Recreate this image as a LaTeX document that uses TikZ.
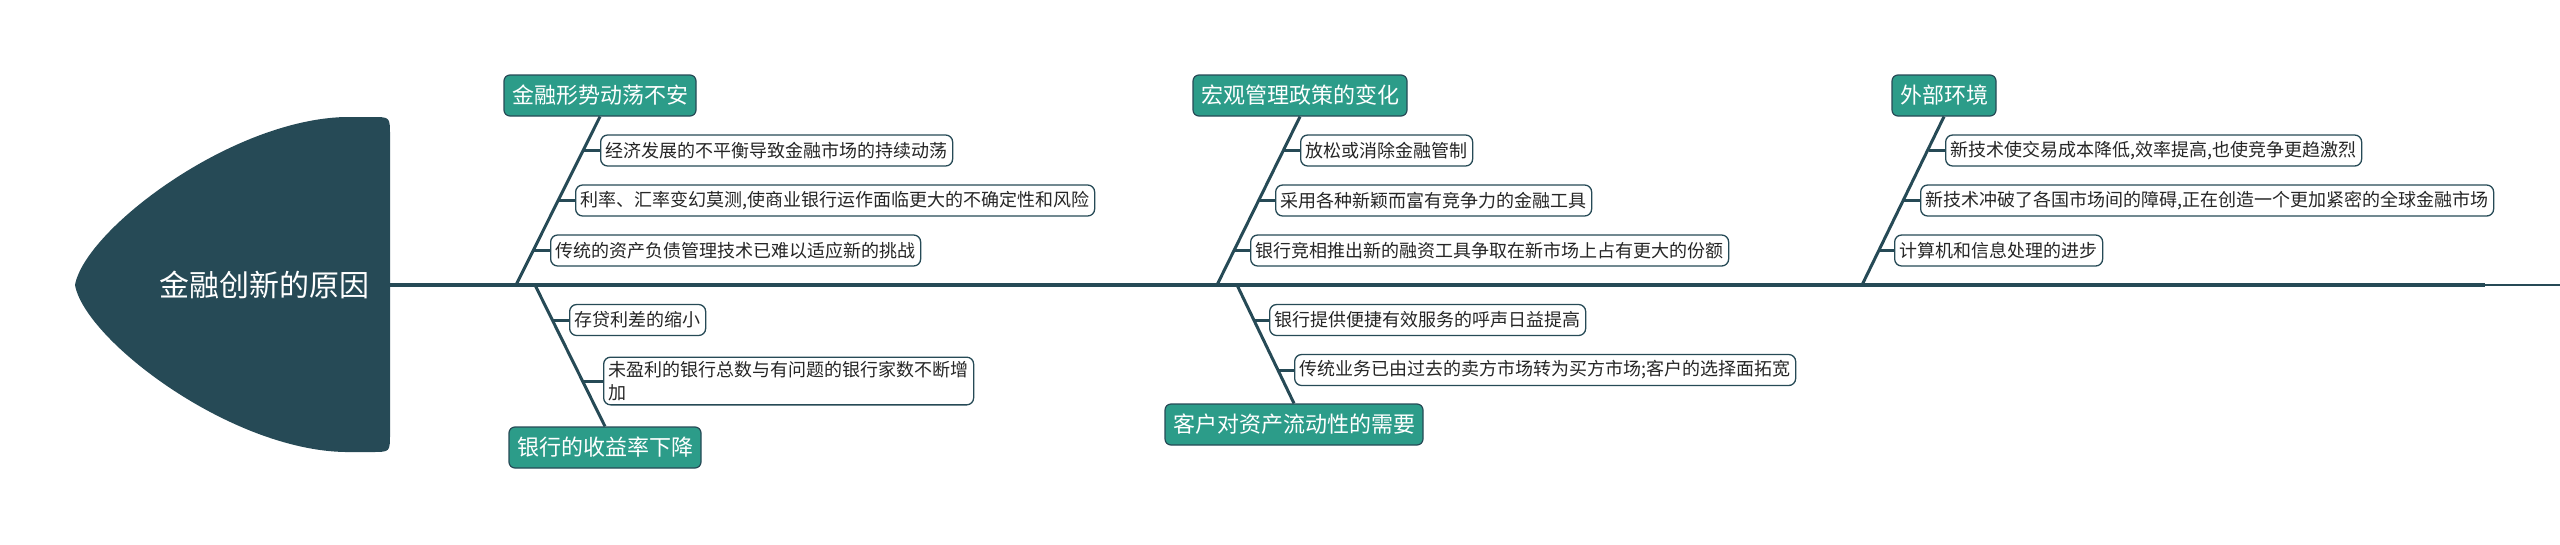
\documentclass[tikz,border=0pt]{standalone}
\usepackage{fontspec}
\setmainfont{Noto Sans CJK SC}
\definecolor{bone}{HTML}{264A56}
\definecolor{mteal}{HTML}{2C9C89}
\definecolor{txtc}{HTML}{262626}
\begin{document}
\begin{tikzpicture}[x=1pt,y=-1pt,
  mainbox/.style={draw=bone, line width=1.2pt, fill=mteal, rounded corners=6pt, text=white,
    font=\fontsize{22pt}{26pt}\selectfont, inner xsep=8pt, inner ysep=0pt, minimum height=41pt},
  subbox/.style={draw=bone, line width=1.3pt, fill=white, rounded corners=7pt, text=txtc,
    font=\fontsize{18pt}{23pt}\selectfont, inner xsep=5pt, inner ysep=4pt, minimum height=31pt,
    anchor=west, align=left},
  bonel/.style={draw=bone, line width=3pt},
  tickl/.style={draw=bone, line width=3pt}]
\useasboundingbox (0,0) rectangle (2560,544);

% head
\fill[bone] (345,117) .. controls (230,120) and (85,230) .. (75,285)
  .. controls (85,340) and (230,450) .. (345,452) -- (372,452)
  .. controls (390,452) .. (390,434) -- (390,135)
  .. controls (390,117) .. (372,117) -- cycle;
\node[font=\fontsize{30pt}{36pt}\selectfont, text=white] (head) at (264,285) {金融创新的原因};

% spine
\coordinate (headE) at (390,285);
\coordinate (spE) at (2485,285);
\coordinate (spEnd) at (2560,285);
\draw[bone, line width=4pt] (headE) -- (spE);
\draw[bone, line width=2.5pt] (spE) -- (spEnd);

% main boxes
\node[mainbox] (m1) at (600,95.5) {金融形势动荡不安};
\node[mainbox] (m3) at (1300,95.5) {宏观管理政策的变化};
\node[mainbox] (m5) at (1944,95.5) {外部环境};
\node[mainbox] (m2) at (605,447.5) {银行的收益率下降};
\node[mainbox] (m4) at (1294,424.5) {客户对资产流动性的需要};

% bones
\coordinate (j1) at (516,285);
\coordinate (j3) at (1217,285);
\coordinate (j5) at (1862,285);
\coordinate (j2) at (535,285);
\coordinate (j4) at (1237,285);
\draw[bonel] (j1) -- (m1.south);
\draw[bonel] (j3) -- (m3.south);
\draw[bonel] (j5) -- (m5.south);
\draw[bonel] (j2) -- (m2.north);
\draw[bonel] (j4) -- (m4.north);

% branch 1
\coordinate (t11) at (583,150.5);
\coordinate (t12) at (558,200.5);
\coordinate (t13) at (533,250.5);
\node[subbox] (s11) at (600,150.5) {经济发展的不平衡导致金融市场的持续动荡};
\node[subbox] (s12) at (575,200.5) {利率、汇率变幻莫测,使商业银行运作面临更大的不确定性和风险};
\node[subbox] (s13) at (550,250.5) {传统的资产负债管理技术已难以适应新的挑战};
\draw[tickl] (t11) -- (s11.west);
\draw[tickl] (t12) -- (s12.west);
\draw[tickl] (t13) -- (s13.west);

% branch 2
\coordinate (t21) at (552,320);
\coordinate (t22) at (582,381);
\node[subbox] (s21) at (569,320) {存贷利差的缩小};
\node[subbox] (s22) at (603,381) {未盈利的银行总数与有问题的银行家数不断增\\加};
\draw[tickl] (t21) -- (s21.west);
\draw[tickl] (t22) -- (s22.west);

% branch 3
\coordinate (t31) at (1284,150.5);
\coordinate (t32) at (1259,200.5);
\coordinate (t33) at (1234,250.5);
\node[subbox] (s31) at (1300,150.5) {放松或消除金融管制};
\node[subbox] (s32) at (1275,200.5) {采用各种新颖而富有竞争力的金融工具};
\node[subbox] (s33) at (1250,250.5) {银行竞相推出新的融资工具争取在新市场上占有更大的份额};
\draw[tickl] (t31) -- (s31.west);
\draw[tickl] (t32) -- (s32.west);
\draw[tickl] (t33) -- (s33.west);

% branch 4
\coordinate (t41) at (1254,320);
\coordinate (t42) at (1279,370);
\node[subbox] (s41) at (1269,320) {银行提供便捷有效服务的呼声日益提高};
\node[subbox] (s42) at (1294,370) {传统业务已由过去的卖方市场转为买方市场;客户的选择面拓宽};
\draw[tickl] (t41) -- (s41.west);
\draw[tickl] (t42) -- (s42.west);

% branch 5
\coordinate (t51) at (1929,150.5);
\coordinate (t52) at (1904,200.5);
\coordinate (t53) at (1879,250.5);
\node[subbox] (s51) at (1945,150.5) {新技术使交易成本降低,效率提高,也使竞争更趋激烈};
\node[subbox] (s52) at (1920,200.5) {新技术冲破了各国市场间的障碍,正在创造一个更加紧密的全球金融市场};
\node[subbox] (s53) at (1894,250.5) {计算机和信息处理的进步};
\draw[tickl] (t51) -- (s51.west);
\draw[tickl] (t52) -- (s52.west);
\draw[tickl] (t53) -- (s53.west);
\end{tikzpicture}
\end{document}
